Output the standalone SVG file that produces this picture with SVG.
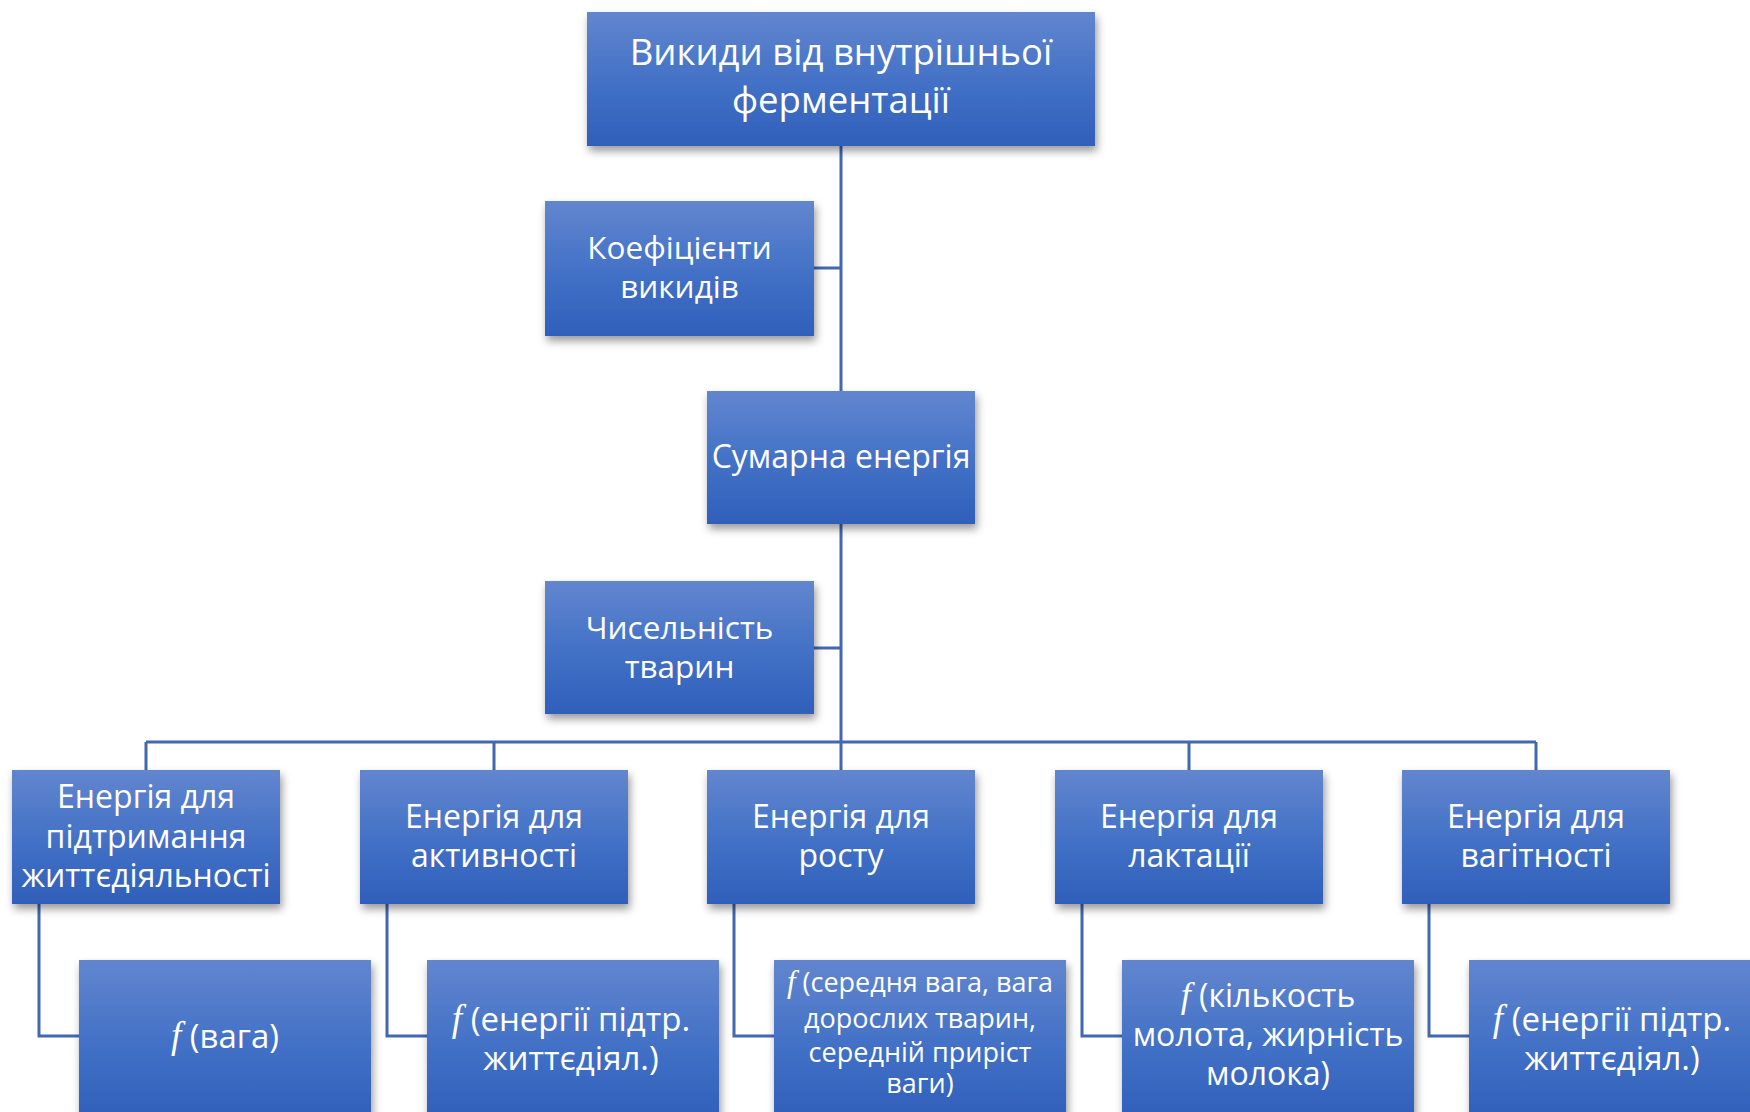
<svg xmlns="http://www.w3.org/2000/svg" width="1750" height="1112" viewBox="0 0 1750 1112">
<defs>
<linearGradient id="g" x1="0" y1="0" x2="0" y2="1">
<stop offset="0" stop-color="#6286CE"/>
<stop offset="0.5" stop-color="#4472C7"/>
<stop offset="1" stop-color="#2F5FBA"/>
</linearGradient>
<filter id="sh" x="-10%" y="-10%" width="125%" height="130%">
<feDropShadow dx="2" dy="5" stdDeviation="4" flood-color="#000" flood-opacity="0.4"/>
</filter>
</defs>
<style>
.box{fill:url(#g);filter:url(#sh)}
.t{fill:#fff;font-family:"Open Sans","Noto Sans",sans-serif;text-anchor:middle}
.f{font-family:"Liberation Serif",serif;font-style:italic}
.c{fill:none;stroke:#4268B0;stroke-width:3}
</style>
<rect width="1750" height="1112" fill="#fff"/>
<g id="connectors">
<path class="c" d="M841 146V391M814 268H841M841 524V770M814 648H841M146 742H1536M146 742V770M494 742V770M1189 742V770M1536 742V770"/>
<path class="c" d="M39 904V1036H79M387 904V1036H427M734 904V1036H774M1082 904V1036H1122M1429 904V1036H1469"/>
</g>
<g id="n-top"><rect class="box" x="587" y="12" width="508" height="134"/>
<text class="t" font-size="36.5" x="841" y="65">Викиди від внутрішньої</text>
<text class="t" font-size="36.5" x="841" y="113">ферментації</text></g>
<g id="n-koef"><rect class="box" x="545" y="201" width="269" height="135"/>
<text class="t" font-size="31.5" x="679.5" y="259">Коефіцієнти</text>
<text class="t" font-size="31.5" x="679.5" y="298">викидів</text></g>
<g id="n-sum"><rect class="box" x="707" y="391" width="268" height="133"/>
<text class="t" font-size="32" x="841" y="468">Сумарна енергія</text></g>
<g id="n-chys"><rect class="box" x="545" y="581" width="269" height="133"/>
<text class="t" font-size="31.5" x="679.5" y="639">Чисельність</text>
<text class="t" font-size="31.5" x="679.5" y="678">тварин</text></g>
<g id="n-e1"><rect class="box" x="12" y="770" width="268" height="134"/>
<text class="t" font-size="32" x="146" y="808">Енергія для</text>
<text class="t" font-size="32" x="146" y="848">підтримання</text>
<text class="t" font-size="32" x="146" y="887">життєдіяльності</text></g>
<g id="n-e2"><rect class="box" x="360" y="770" width="268" height="134"/>
<text class="t" font-size="32" x="494" y="828">Енергія для</text>
<text class="t" font-size="32" x="494" y="867">активності</text></g>
<g id="n-e3"><rect class="box" x="707" y="770" width="268" height="134"/>
<text class="t" font-size="32" x="841" y="828">Енергія для</text>
<text class="t" font-size="32" x="841" y="867">росту</text></g>
<g id="n-e4"><rect class="box" x="1055" y="770" width="268" height="134"/>
<text class="t" font-size="32" x="1189" y="828">Енергія для</text>
<text class="t" font-size="32" x="1189" y="867">лактації</text></g>
<g id="n-e5"><rect class="box" x="1402" y="770" width="268" height="134"/>
<text class="t" font-size="32" x="1536" y="828">Енергія для</text>
<text class="t" font-size="32" x="1536" y="867">вагітності</text></g>
<g id="n-f1"><rect class="box" x="79" y="960" width="292" height="160"/>
<text class="t" font-size="33" x="225" y="1048"><tspan class="f" font-size="37">f</tspan> (вага)</text></g>
<g id="n-f2"><rect class="box" x="427" y="960" width="292" height="160"/>
<text class="t" font-size="33" x="571" y="1031"><tspan class="f" font-size="37">f</tspan> (енергії підтр.</text>
<text class="t" font-size="33" x="571" y="1070">життєдіял.)</text></g>
<g id="n-f3"><rect class="box" x="774" y="960" width="292" height="160"/>
<text class="t" font-size="27" x="920" y="992"><tspan class="f" font-size="31">f</tspan> (середня вага, вага</text>
<text class="t" font-size="27" x="920" y="1028">дорослих тварин,</text>
<text class="t" font-size="27" x="920" y="1062">середній приріст</text>
<text class="t" font-size="27" x="920" y="1093">ваги)</text></g>
<g id="n-f4"><rect class="box" x="1122" y="960" width="292" height="160"/>
<text class="t" font-size="32" x="1268" y="1007"><tspan class="f" font-size="36">f</tspan> (кількость</text>
<text class="t" font-size="32" x="1268" y="1046">молота, жирність</text>
<text class="t" font-size="32" x="1268" y="1085">молока)</text></g>
<g id="n-f5"><rect class="box" x="1469" y="960" width="292" height="160"/>
<text class="t" font-size="33" x="1612" y="1031"><tspan class="f" font-size="37">f</tspan> (енергії підтр.</text>
<text class="t" font-size="33" x="1612" y="1070">життєдіял.)</text></g>
</svg>
